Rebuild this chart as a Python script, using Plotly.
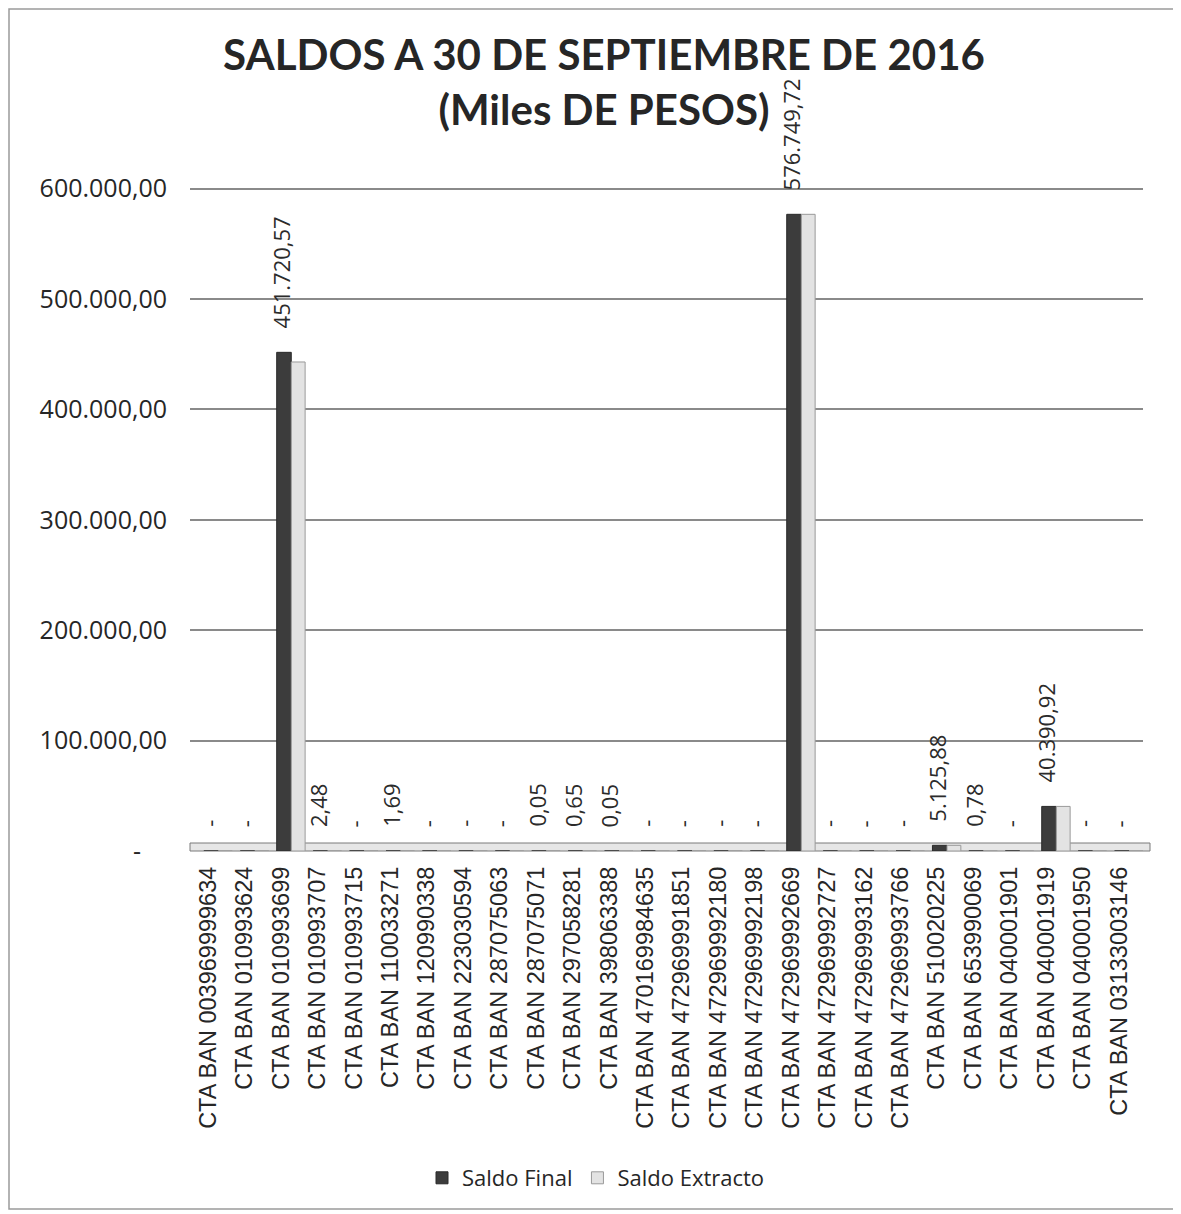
import plotly.graph_objects as go

cuentas = ["CTA BAN 003969999634", "CTA BAN 010993624", "CTA BAN 010993699",
           "CTA BAN 010993707", "CTA BAN 010993715", "CTA BAN 110033271",
           "CTA BAN 120990338", "CTA BAN 223030594", "CTA BAN 287075063",
           "CTA BAN 287075071", "CTA BAN 297058281", "CTA BAN 398063388",
           "CTA BAN 470169984635", "CTA BAN 472969991851", "CTA BAN 472969992180",
           "CTA BAN 472969992198", "CTA BAN 472969992669", "CTA BAN 472969992727",
           "CTA BAN 472969993162", "CTA BAN 472969993766", "CTA BAN 510020225",
           "CTA BAN 653990069", "CTA BAN 040001901", "CTA BAN 040001919",
           "CTA BAN 040001950", "CTA BAN 03133003146"]

saldo_final = [0, 0, 451720.57, 2.48, 0, 1.69, 0, 0, 0, 0.05, 0.65, 0.05, 0,
               0, 0, 0, 576749.72, 0, 0, 0, 5125.88, 0.78, 0, 40390.92, 0, 0]

saldo_extracto = [0, 0, 443000, 2.48, 0, 1.69, 0, 0, 0, 0.05, 0.65, 0.05, 0,
                  0, 0, 0, 576749.72, 0, 0, 0, 5125.88, 0.78, 0, 40390.92, 0, 0]

y_ticks = [0, 100000, 200000, 300000, 400000, 500000, 600000]


def fmt(v):  # formato 451.720,57 y "-" para cero
    if v == 0:
        return "-"
    s = "{:,.2f}".format(v)
    return s.replace(",", "#").replace(".", ",").replace("#", ".")


# la pagina deja 8px de margen, todo se mide en pixeles de la ventana
OFF = 8
W, H = 1181 - OFF, 1214 - OFF
L, R, T, B = 190 - OFF, 38, 187 - OFF, 1214 - 851
pw = W - L - R
ph = H - T - B


def px_x(p):
    return (p - OFF - L) / pw


def px_y(p):
    return (H - B - (p - OFF)) / ph


fig = go.Figure()
fig.add_trace(go.Bar(x=cuentas, y=saldo_final, name="Saldo Final",
                     marker=dict(color="#3c3c3c", line=dict(color="#2a2a2a", width=1)),
                     width=0.4, offset=-0.12))
fig.add_trace(go.Bar(x=cuentas, y=saldo_extracto, name="Saldo Extracto",
                     marker=dict(color="#e3e3e3", line=dict(color="#9a9a9a", width=1)),
                     width=0.38, offset=0.28))

# etiquetas de datos verticales
for c, v in zip(cuentas, saldo_final):
    fig.add_annotation(x=c, y=v, text=fmt(v), textangle=-90, showarrow=False,
                       yanchor="bottom", yshift=22,
                       font=dict(family="Open Sans", size=22, color="#2b2b2b"))

# piso del grafico
fig.add_shape(type="rect", xref="paper", yref="paper", x0=0, x1=px_x(1150),
              y0=px_y(851), y1=px_y(843), layer="below",
              fillcolor="#e6e6e6", line=dict(color="#7a7a7a", width=1))
# marco
fig.add_shape(type="rect", xref="paper", yref="paper", x0=px_x(9), x1=px_x(1179),
              y0=px_y(1209), y1=px_y(9), line=dict(color="#9a9a9a", width=1.5))

fig.update_layout(
    width=W, height=H,
    margin=dict(l=L, r=R, t=T, b=B),
    paper_bgcolor="white", plot_bgcolor="white",
    title=dict(text="<b>SALDOS A 30 DE SEPTIEMBRE DE 2016<br>(Miles DE PESOS)</b>",
               x=(604 - OFF) / W, xanchor="center", xref="container",
               y=1 - 62 / H, yanchor="top",
               font=dict(family="Lato", size=42, color="#262626")),
    legend=dict(orientation="h", x=px_x(596), xanchor="center",
                y=px_y(1178), yanchor="middle",
                font=dict(family="Open Sans", size=22, color="#262626")),
    showlegend=True,
)
fig.update_xaxes(tickangle=-90, ticks="", ticklabelstandoff=10,
                 tickfont=dict(family="Liberation Sans", size=23.5, color="#262626"),
                 showgrid=False, showline=False)
fig.update_yaxes(range=[0, 601500], tickvals=y_ticks,
                 ticktext=[fmt(v) if v else "-&nbsp;&nbsp;&nbsp;&nbsp;" for v in y_ticks],
                 tickfont=dict(family="Open Sans", size=25, color="#262626"),
                 ticklabelstandoff=22, showgrid=True, gridcolor="#8a8a8a",
                 gridwidth=1.5, zeroline=False, showline=False)

fig.write_html("out.html")
